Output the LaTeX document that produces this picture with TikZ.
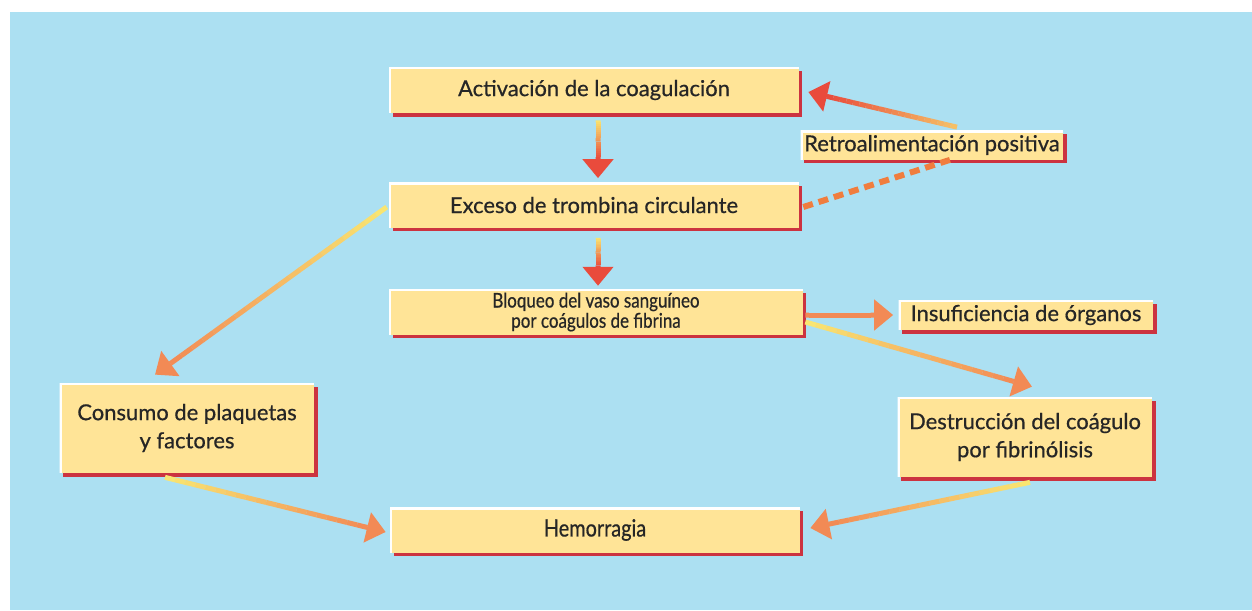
\documentclass[tikz,border=0pt]{standalone}
\usepackage{fontspec}
\setmainfont{Lato}[FakeBold=0.6]
\newfontfamily\narrowfont{Lato}[FakeBold=0.6, FakeStretch=0.84]
\usepackage{xcolor}
\usepackage{tikz}
\usetikzlibrary{arrows.meta, calc, shadows}

\definecolor{skyblue}{HTML}{ACE0F2}
\definecolor{boxfill}{HTML}{FFE497}
\definecolor{boxred}{HTML}{CC3340}
\definecolor{fadeyellow}{HTML}{F9E872}
\definecolor{fadeorange}{HTML}{F28A55}
\definecolor{fadered}{HTML}{E94B3C}
\definecolor{dashorange}{HTML}{F07D3E}
\definecolor{inkdark}{HTML}{262626}

% arrow whose colour runs from #3 (start) to #4 (tip)
\newcommand{\fadearrow}[4]{%
  \coordinate (fa-base) at ($(#2)!0.38cm!(#1)$);
  \foreach \k in {1,...,20}{%
    \pgfmathtruncatemacro{\pct}{102.5-5*\k}%
    \draw[fadeedge, draw=#3!\pct!#4]
      ($(#1)!{(\k-1)/20}!(fa-base)$) -- ($(#1)!{\k/20}!(fa-base)$);
  }
  \draw[fadeedge, draw=#4, -{Triangle[length=0.38cm, width=0.6cm]}] (fa-base) -- (#2);
}

\begin{document}
\begin{tikzpicture}[
  x=0.02cm, y=-0.02cm,
  box/.style={
    rectangle, fill=boxfill, inner sep=2pt, align=center,
    font=\fontsize{12.5}{16}\selectfont, text=inkdark,
    general shadow={fill=boxred, shadow xshift=0.07cm, shadow yshift=-0.07cm},
    path picture={
      \draw[white, line width=0.08cm]
        (path picture bounding box.south west) --
        (path picture bounding box.north west) --
        (path picture bounding box.north east);
    }
  },
  widebox/.style={box, minimum width=8.2cm, minimum height=0.9cm},
  sidebox/.style={box, minimum width=5.1cm},
  fadeedge/.style={line width=0.1cm, line cap=butt},
  dashedge/.style={draw=dashorange, line width=0.12cm, dash pattern=on 0.2cm off 0.12cm},
]

% ============================================================
% BACKGROUND
% ============================================================
\useasboundingbox (0,0) rectangle (1252,610);
\fill[white] (0,0) rectangle (1252,610);
\fill[skyblue] (10,12) rectangle (1252,610);

% ============================================================
% BOXES
% ============================================================
\node[widebox, minimum height=0.92cm] (act) at (594,90) {Activación de la coagulación};
\node[widebox] (exc) at (594,205) {Exceso de trombina circulante};
\node[widebox, minimum width=8.28cm, minimum height=0.86cm,
      font=\narrowfont\fontsize{11.5}{11.5}\selectfont] (blo) at (596,312)
  {Bloqueo del vaso sanguíneo\\por coágulos de fibrina};
\node[sidebox, minimum height=0.6cm] (ins) at (1026,315) {Insuficiencia de órganos};
\node[sidebox, minimum width=5.08cm, minimum height=0.58cm] (retro) at (932,145)
  {Retroalimentación positiva};
\node[sidebox, minimum height=1.6cm] (des) at (1025,437)
  {Destrucción del coágulo\\por fibrinólisis};
\node[sidebox, minimum height=1.8cm] (con) at (187,428)
  {Consumo de plaquetas\\y factores};
\node[widebox, font=\narrowfont\fontsize{13.5}{16}\selectfont] (hem) at (595,530) {Hemorragia};

% ============================================================
% CONNECTORS
% ============================================================
% main vertical chain
\coordinate (a1) at ($(act.south)+(4,7)$);
\coordinate (a2) at ($(exc.north)+(4,-4)$);
\fadearrow{a1}{a2}{fadeyellow}{fadered}
\coordinate (b1) at ($(exc.south)+(4,10)$);
\coordinate (b2) at ($(blo.north)+(2,-3)$);
\fadearrow{b1}{b2}{fadeyellow}{fadered}

% --- positive feedback loop ---
\coordinate (r1) at ($(retro.north)+(25,-3)$);
\coordinate (r2) at ($(act.east)+(9,2)$);
\fadearrow{r1}{r2}{fadeyellow!60!fadeorange}{fadered}
\draw[dashedge] ($(exc.east)+(4,2)$) -- ($(retro.south)+(18,0)$);

% --- branches out of the blocked vessel ---
\coordinate (i1) at ($(blo.east)+(2,3)$);
\coordinate (i2) at ($(ins.west)+(-5,0)$);
\fadearrow{i1}{i2}{fadeorange}{fadeorange}
\coordinate (d1) at ($(blo.east)+(2,10)$);
\coordinate (d2) at ($(des.north)+(7,-10)$);
\fadearrow{d1}{d2}{fadeyellow}{fadeorange}

% --- consumption side ---
\coordinate (c1) at ($(exc.west)+(-2,2)$);
\coordinate (c2) at ($(con.north)+(-32,-8)$);
\fadearrow{c1}{c2}{fadeyellow}{fadeorange}

% --- both routes end in bleeding ---
\coordinate (h1) at ($(con.south)+(-22,4)$);
\coordinate (h2) at ($(hem.west)+(-4,2)$);
\fadearrow{h1}{h2}{fadeyellow}{fadeorange}
\coordinate (h3) at ($(des.south)+(5,5)$);
\coordinate (h4) at ($(hem.east)+(10,-2)$);
\fadearrow{h3}{h4}{fadeyellow}{fadeorange}

\end{tikzpicture}
\end{document}
